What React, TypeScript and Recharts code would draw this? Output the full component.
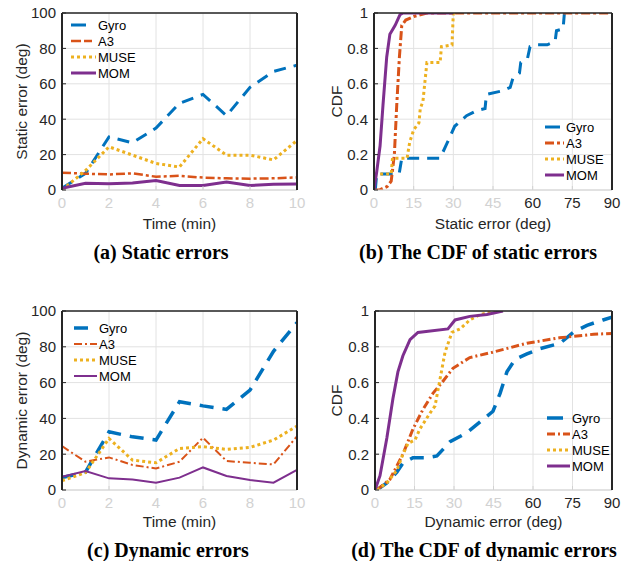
import { LineChart, Line, XAxis, YAxis, CartesianGrid, Legend } from 'recharts';

// time axis for the two error-vs-time panels
const minutes = [0, 1, 2, 3, 4, 5, 6, 7, 8, 9, 10];

// (a) static errors (deg)
const staticGyro = [1, 9.4, 30, 26.7, 35, 49, 54, 42, 58, 67, 70.5];
const staticA3 = [9.8, 9.2, 8.8, 9.4, 7.5, 8, 7, 6.6, 6.4, 6.6, 7.1];
const staticMuse = [0, 11, 24.4, 19.7, 15, 13, 29, 19.7, 19.7, 17, 28];
const staticMom = [1, 3.8, 3.6, 4, 5.3, 2.6, 2.6, 4.5, 2.6, 3.2, 3.4];

// (c) dynamic errors (deg)
const dynGyro = [6.9, 10, 32.5, 29.7, 27.9, 49.3, 47, 45, 55.8, 77.5, 93.5];
const dynA3 = [24.5, 15.8, 18.2, 14, 12, 15.8, 29.2, 16.2, 15.2, 14.3, 30];
const dynMuse = [5.2, 9.7, 28.8, 16.7, 15.2, 23.2, 24.2, 22.7, 23.8, 27.9, 35.7];
const dynMom = [7.4, 10.6, 6.5, 5.9, 4.1, 6.9, 12.6, 7.8, 5.6, 4.1, 11.2];

// (b) CDF of static errors: [error, cdf]
const staticCdfGyro = [[0.5, 0], [1, 0.09], [9.5, 0.09], [10.5, 0.18], [25, 0.18], [27.5, 0.26], [30.5, 0.36], [35, 0.42], [39, 0.45], [42, 0.46], [42.5, 0.54], [48.5, 0.56], [51.5, 0.58], [52.5, 0.63], [55, 0.66], [55.5, 0.72], [58, 0.74], [59, 0.81], [61, 0.82], [65.5, 0.82], [68.5, 0.84], [69, 0.9], [71.5, 0.91], [72, 1]];
const staticCdfA3 = [[0, 0], [2, 0], [5, 0.02], [6.5, 0.05], [7.7, 0.2], [8.6, 0.48], [9.6, 0.75], [10.5, 0.93], [12, 0.96], [15, 0.98], [20, 1], [90, 1]];
const staticCdfMuse = [[0, 0.05], [0.5, 0.09], [6.5, 0.09], [7, 0.18], [12.5, 0.18], [13.5, 0.27], [15, 0.34], [17, 0.38], [17.5, 0.46], [18.5, 0.5], [20, 0.72], [25, 0.72], [25.5, 0.81], [29.5, 0.82], [30, 1]];
const staticCdfMom = [[0, 0], [1, 0.1], [2.3, 0.25], [3.4, 0.48], [4.8, 0.75], [6, 0.88], [8, 0.93], [9.8, 0.99], [11, 1], [30, 1]];

// (d) CDF of dynamic errors: [error, cdf]
const dynCdfGyro = [[0.7, 0], [4.5, 0.04], [8.3, 0.1], [10.6, 0.15], [14.4, 0.18], [19.7, 0.18], [23.5, 0.19], [28.5, 0.27], [34.9, 0.32], [39.9, 0.38], [44.8, 0.44], [47.5, 0.54], [50.1, 0.66], [53.2, 0.73], [57.7, 0.76], [62.7, 0.79], [70.3, 0.82], [75.2, 0.88], [80.5, 0.92], [86.6, 0.95], [90, 0.965]];
const dynCdfA3 = [[0.7, 0], [5.7, 0.06], [10.6, 0.2], [14.4, 0.34], [18.2, 0.45], [22, 0.54], [25.4, 0.6], [29.6, 0.68], [36, 0.74], [44.8, 0.77], [57.7, 0.82], [70, 0.85], [83, 0.87], [90, 0.875]];
const dynCdfMuse = [[0.7, 0], [4.5, 0.04], [8.3, 0.11], [10.6, 0.2], [12.5, 0.26], [15.2, 0.28], [17, 0.34], [20.9, 0.43], [22.8, 0.47], [24.7, 0.62], [26.6, 0.77], [29.2, 0.88], [32.3, 0.9], [36, 0.95], [39.9, 0.98], [45.5, 1]];
const dynCdfMom = [[0, 0], [1.9, 0.08], [4.5, 0.29], [6.8, 0.51], [8.7, 0.66], [10.6, 0.75], [13.3, 0.84], [16.3, 0.88], [27.7, 0.9], [30.4, 0.95], [36, 0.97], [42.5, 0.98], [48.6, 1]];

const timeTicks = [0, 2, 4, 6, 8, 10];
const errTicks = [0, 20, 40, 60, 80, 100];
const cdfXTicks = [0, 15, 30, 45, 60, 75, 90];
const cdfYTicks = [0, 0.2, 0.4, 0.6, 0.8, 1];

const COLORS: Record<string, string> = { Gyro: '#0072BD', A3: '#D95319', MUSE: '#EDB120', MOM: '#7E2F8E' };
const FONT = '"Liberation Sans", Arial, Helvetica, sans-serif';
const DARK = '#262626';
const FAINT = '#d2d2d2';
const GRID = '#e2e2e2';

type Series = { name: string; key: string; width: number; dash?: string; legendDash?: string; data?: any[] };

const toRows = (cols: Record<string, number[]>) =>
  minutes.map((t, i) => {
    const row: any = { t };
    Object.keys(cols).forEach((k) => (row[k] = cols[k][i]));
    return row;
  });

const toPoints = (pts: number[][]) => pts.map(([err, cdf]) => ({ err, cdf }));

type PanelProps = {
  left: number;
  top: number;
  width: number;
  height: number;
  yWidth: number;
  right: number;
  rows?: any[];
  xKey: string;
  xDomain: number[];
  xTicks: number[];
  yDomain: number[];
  yTicks: number[];
  xTitle: string;
  yTitle: string;
  xTitleDy: number;
  darkFrom: number;
  series: Series[];
  legend: { left: number; top: number; text: number };
};

function Panel(p: PanelProps) {
  const xTick = (props: any) => {
    const v = props.payload.value;
    return (
      <text x={props.x} y={props.y} dy="0.71em" textAnchor="middle" fontSize={15} fontFamily={FONT} fill={v >= p.darkFrom ? DARK : FAINT}>
        {v}
      </text>
    );
  };
  const xLabel = (props: any) => {
    const vb = props.viewBox;
    return (
      <text x={vb.x + vb.width / 2} y={vb.y + p.xTitleDy} textAnchor="middle" fontSize={15.5} fontFamily={FONT} fill={DARK}>
        {p.xTitle}
      </text>
    );
  };
  const yLabel = (props: any) => {
    const vb = props.viewBox;
    const x = vb.x + 27;
    const y = vb.y + vb.height / 2;
    return (
      <text x={x} y={y} transform={`rotate(-90 ${x} ${y})`} textAnchor="middle" fontSize={15.5} fontFamily={FONT} fill={DARK}>
        {p.yTitle}
      </text>
    );
  };
  const legendBox = () => (
    <svg width={110} height={66} style={{ display: 'block' }}>
      {p.series.map((s, i) => {
        const y = 8 + i * 16;
        return (
          <g key={s.name}>
            <line x1={0} x2={p.legend.text - 2} y1={y} y2={y} stroke={COLORS[s.name]} strokeWidth={s.width} strokeDasharray={s.legendDash ?? s.dash} />
            <text x={p.legend.text} y={y} dy="0.36em" fontSize={13} fontFamily={FONT} fill="#000">
              {s.name}
            </text>
          </g>
        );
      })}
    </svg>
  );

  return (
    <div style={{ position: 'absolute', left: p.left, top: p.top }}>
      <LineChart width={p.width} height={p.height} data={p.rows} margin={{ top: 12, right: p.right, left: 0, bottom: 10 }}>
        <CartesianGrid stroke={GRID} strokeWidth={1} />
        <XAxis
          type="number"
          dataKey={p.xKey}
          domain={p.xDomain}
          ticks={p.xTicks}
          allowDataOverflow
          height={40}
          axisLine={{ stroke: FAINT, strokeWidth: 1 }}
          tickLine={{ stroke: FAINT }}
          tickSize={-4}
          tickMargin={11}
          tick={xTick}
          label={xLabel}
        />
        <XAxis
          xAxisId="top"
          orientation="top"
          type="number"
          domain={p.xDomain}
          ticks={p.xTicks}
          allowDataOverflow
          height={1}
          axisLine={{ stroke: DARK, strokeWidth: 1.5 }}
          tickLine={{ stroke: DARK }}
          tickSize={-4}
          tick={false}
        />
        <YAxis
          type="number"
          domain={p.yDomain}
          ticks={p.yTicks}
          allowDataOverflow
          width={p.yWidth}
          axisLine={{ stroke: DARK, strokeWidth: 2 }}
          tickLine={{ stroke: DARK }}
          tickSize={-4}
          tickMargin={10}
          tick={{ fill: DARK, fontSize: 15, fontFamily: FONT }}
          label={yLabel}
        />
        <YAxis
          yAxisId="right"
          orientation="right"
          type="number"
          domain={p.yDomain}
          ticks={p.yTicks}
          allowDataOverflow
          width={1}
          axisLine={{ stroke: DARK, strokeWidth: 2 }}
          tickLine={{ stroke: DARK }}
          tickSize={-4}
          tick={false}
        />
        <Legend
          layout="vertical"
          align="center"
          verticalAlign="middle"
          content={legendBox}
          wrapperStyle={{ left: p.legend.left, top: p.legend.top, width: 110, height: 66 }}
        />
        {p.series.map((s) => (
          <Line
            key={s.name}
            data={s.data}
            dataKey={s.key}
            type="linear"
            stroke={COLORS[s.name]}
            strokeWidth={s.width}
            strokeDasharray={s.dash}
            dot={false}
            activeDot={false}
            isAnimationActive={false}
          />
        ))}
      </LineChart>
    </div>
  );
}

const captionStyle = (cx: number, top: number): any => ({
  position: 'absolute',
  left: cx - 200,
  top,
  width: 400,
  textAlign: 'center',
  fontFamily: '"Liberation Serif", "Times New Roman", serif',
  fontWeight: 'bold',
  fontSize: 20,
  lineHeight: '20px',
  color: '#000',
});

export default function App() {
  const staticRows = toRows({ Gyro: staticGyro, A3: staticA3, MUSE: staticMuse, MOM: staticMom });
  const dynRows = toRows({ Gyro: dynGyro, A3: dynA3, MUSE: dynMuse, MOM: dynMom });

  return (
    <div style={{ position: 'absolute', left: 0, top: 0, width: 631, height: 561, background: '#fff', overflow: 'hidden' }}>
      <Panel
        left={0}
        top={0}
        width={315}
        height={240}
        yWidth={62}
        right={17}
        rows={staticRows}
        xKey="t"
        xDomain={[0, 10]}
        xTicks={timeTicks}
        yDomain={[0, 100]}
        yTicks={errTicks}
        xTitle="Time (min)"
        yTitle="Static error (deg)"
        xTitleDy={39}
        darkFrom={999}
        legend={{ left: 71, top: 17, text: 27 }}
        series={[
          { name: 'Gyro', key: 'Gyro', width: 3, dash: '12 8', legendDash: '15 40' },
          { name: 'A3', key: 'A3', width: 2.5, dash: '9 3 3 3', legendDash: '10 3 8 40' },
          { name: 'MUSE', key: 'MUSE', width: 3, dash: '3 3' },
          { name: 'MOM', key: 'MOM', width: 3 },
        ]}
      />
      <Panel
        left={315}
        top={0}
        width={316}
        height={240}
        yWidth={59}
        right={18}
        xKey="err"
        xDomain={[0, 90]}
        xTicks={cdfXTicks}
        yDomain={[0, 1]}
        yTicks={cdfYTicks}
        xTitle="Static error (deg)"
        yTitle="CDF"
        xTitleDy={39}
        darkFrom={60}
        legend={{ left: 230, top: 119, text: 21 }}
        series={[
          { name: 'Gyro', key: 'cdf', width: 3, dash: '12 8', legendDash: '15 40', data: toPoints(staticCdfGyro) },
          { name: 'A3', key: 'cdf', width: 3, dash: '9 3 3 3', legendDash: '9 3 3 3', data: toPoints(staticCdfA3) },
          { name: 'MUSE', key: 'cdf', width: 3, dash: '3 3', data: toPoints(staticCdfMuse) },
          { name: 'MOM', key: 'cdf', width: 3, data: toPoints(staticCdfMom) },
        ]}
      />
      <Panel
        left={0}
        top={298}
        width={315}
        height={242}
        yWidth={62}
        right={17}
        rows={dynRows}
        xKey="t"
        xDomain={[0, 10]}
        xTicks={timeTicks}
        yDomain={[0, 100]}
        yTicks={errTicks}
        xTitle="Time (min)"
        yTitle="Dynamic error (deg)"
        xTitleDy={37}
        darkFrom={999}
        legend={{ left: 74, top: 22, text: 25 }}
        series={[
          { name: 'Gyro', key: 'Gyro', width: 3.5, dash: '14 9', legendDash: '14 40' },
          { name: 'A3', key: 'A3', width: 2, dash: '8 3 2 3' },
          { name: 'MUSE', key: 'MUSE', width: 3, dash: '3 3' },
          { name: 'MOM', key: 'MOM', width: 2 },
        ]}
      />
      <Panel
        left={315}
        top={298}
        width={316}
        height={242}
        yWidth={60}
        right={18}
        xKey="err"
        xDomain={[0, 90]}
        xTicks={cdfXTicks}
        yDomain={[0, 1]}
        yTicks={cdfYTicks}
        xTitle="Dynamic error (deg)"
        yTitle="CDF"
        xTitleDy={37}
        darkFrom={60}
        legend={{ left: 232, top: 112, text: 25 }}
        series={[
          { name: 'Gyro', key: 'cdf', width: 3.5, dash: '14 9', legendDash: '16 40', data: toPoints(dynCdfGyro) },
          { name: 'A3', key: 'cdf', width: 3, dash: '8 3 2 3', data: toPoints(dynCdfA3) },
          { name: 'MUSE', key: 'cdf', width: 3, dash: '3 3', data: toPoints(dynCdfMuse) },
          { name: 'MOM', key: 'cdf', width: 3, data: toPoints(dynCdfMom) },
        ]}
      />
      <div style={captionStyle(161, 242)}>(a) Static errors</div>
      <div style={captionStyle(478, 242)}>(b) The CDF of static errors</div>
      <div style={captionStyle(168, 540)}>(c) Dynamic errors</div>
      <div style={captionStyle(484, 540)}>(d) The CDF of dynamic errors</div>
    </div>
  );
}
